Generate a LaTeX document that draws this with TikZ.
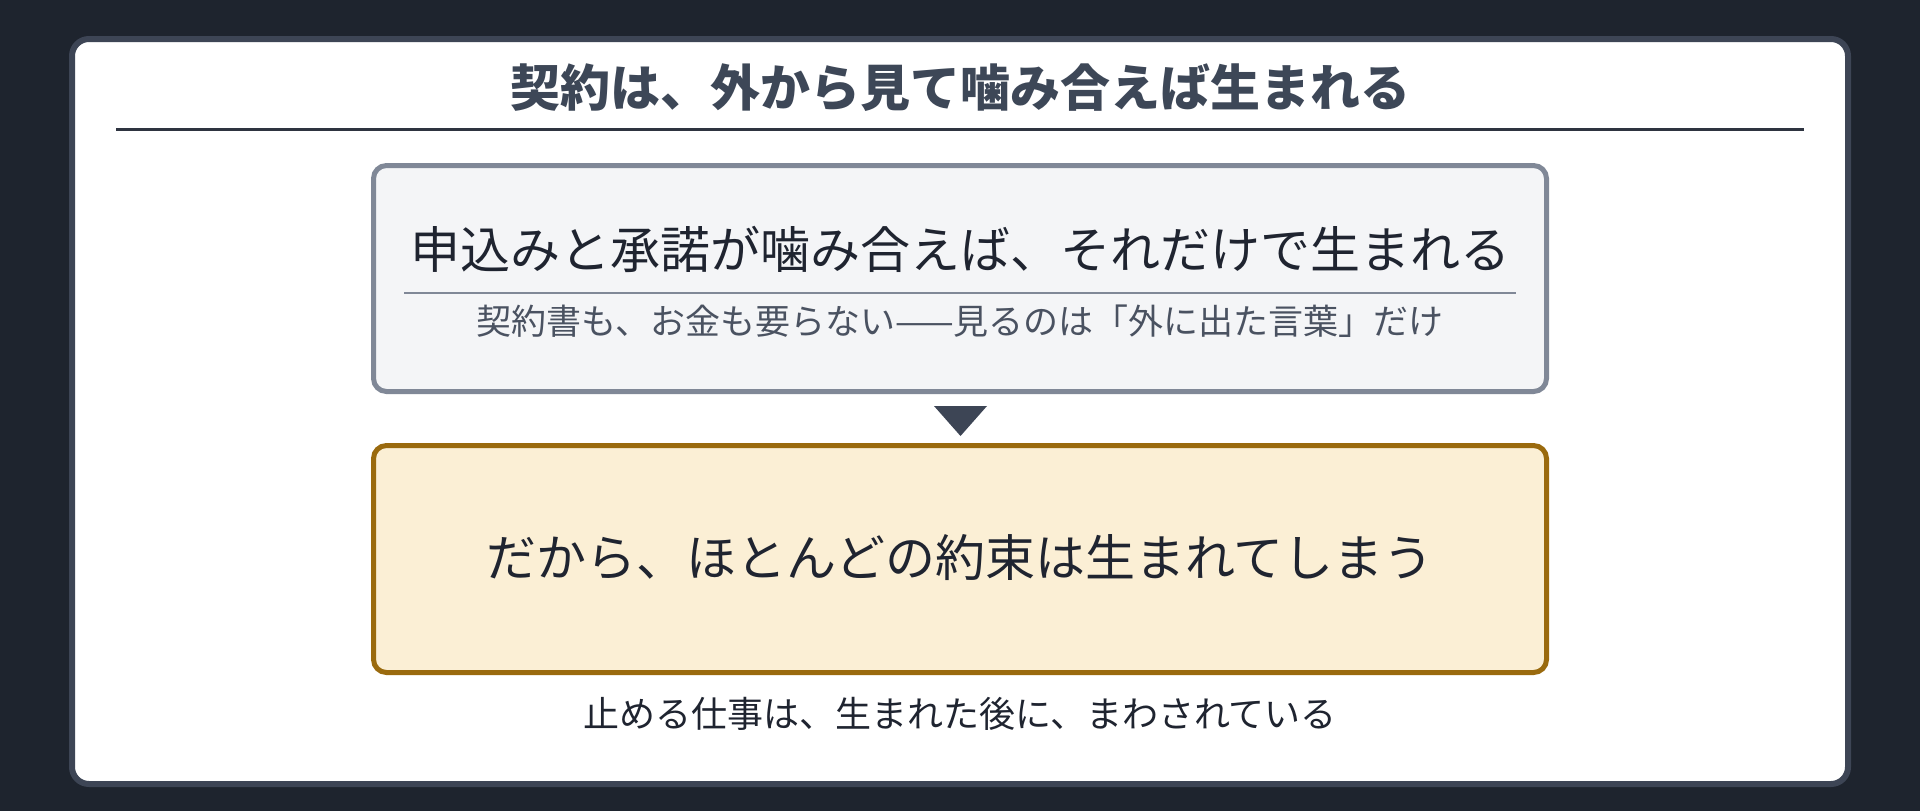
\documentclass[tikz,border=0pt]{standalone}
\usepackage{fontspec}
\setmainfont{Noto Sans CJK JP}
\definecolor{bgdark}{HTML}{1E242E}
\definecolor{cardline}{HTML}{3D4555}
\definecolor{titlecol}{HTML}{3D4757}
\definecolor{rulecol}{HTML}{2E3440}
\definecolor{boxgray}{HTML}{808897}
\definecolor{boxfill}{HTML}{F4F5F7}
\definecolor{subcol}{HTML}{4A5261}
\definecolor{maincol}{HTML}{1F2430}
\definecolor{goldline}{HTML}{9A6A0E}
\definecolor{goldfill}{HTML}{FBEFD5}
\begin{document}
\begin{tikzpicture}[x=1pt,y=-1pt,
  txt/.style={inner sep=0pt, anchor=center},
  card/.style={draw=cardline, fill=white, line width=6pt, rounded corners=17pt, inner sep=0pt},
  boxa/.style={draw=boxgray, fill=boxfill, line width=5pt, rounded corners=13pt, inner sep=0pt, minimum width=1173pt, minimum height=226pt},
  boxb/.style={draw=goldline, fill=goldfill, line width=5pt, rounded corners=13pt, inner sep=0pt, minimum width=1173pt, minimum height=227pt},
  bigtext/.style={txt, font=\fontsize{50}{60}\selectfont, text=maincol},
  smalltext/.style={txt, font=\fontsize{35}{42}\selectfont, text=subcol}]
\fill[bgdark] (0,0) rectangle (1920,811);
\useasboundingbox (0,0) rectangle (1920,811);
\node[card, minimum width=1776pt, minimum height=745pt] (card) at (960,411.5) {};
\node[txt, font=\fontsize{50}{60}\selectfont\bfseries, text=titlecol] (title) at (960,88) {契約は、外から見て噛み合えば生まれる};
\coordinate (ruleL) at (116,129);
\coordinate (ruleR) at (1804,129);
\draw[rulecol, line width=3pt] (ruleL) -- (ruleR);
% box 1
\node[boxa] (b1) at (960,278.5) {};
\node[bigtext] (m1) at (960,249) {申込みと承諾が噛み合えば、それだけで生まれる};
\coordinate (sepL) at (404,293);
\coordinate (sepR) at (1516,293);
\draw[boxgray, line width=2.5pt] (sepL) -- (sepR);
\node[smalltext] (s1) at (960,321) {契約書も、お金も要らない——見るのは「外に出た言葉」だけ};
% arrow triangle
\fill[cardline] (934,406) -- (987,406) -- (960.5,436) -- cycle;
% box 2
\node[boxb] (b2) at (960,559) {};
\node[bigtext] (m2) at (960,558) {だから、ほとんどの約束は生まれてしまう};
\node[txt, font=\fontsize{36}{43}\selectfont, text=maincol] (cap) at (960,714) {止める仕事は、生まれた後に、まわされている};
\end{tikzpicture}
\end{document}
